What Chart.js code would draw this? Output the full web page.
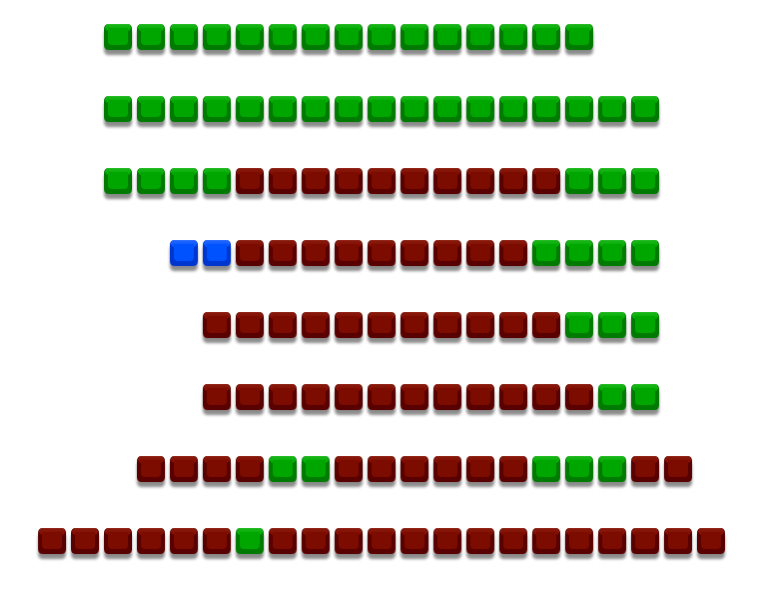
<!DOCTYPE html>
<html>
<head>
<meta charset="UTF-8">
<title>Seats</title>
<script src="https://cdn.jsdelivr.net/npm/chart.js@4.4.0/dist/chart.umd.min.js"></script>
<style>
  body { margin: 0; background: #fff; }
  #wrap { width: 765px; height: 590px; }
</style>
</head>
<body>
<div id="wrap"><canvas id="seatChart"></canvas></div>
<script>
// row number -> first column, and seat status per column (G free, R taken, B selected)
var rowStart = [2, 2, 2, 4, 5, 5, 3, 0];
var seatRows = [
    'GGGGGGGGGGGGGGG',
    'GGGGGGGGGGGGGGGGG',
    'GGGGRRRRRRRRRRGGG',
    'BBRRRRRRRRRGGGG',
    'RRRRRRRRRRRGGG',
    'RRRRRRRRRRRRGG',
    'RRRRGGRRRRRRGGGRR',
    'RRRRRRGRRRRRRRRRRRRRR'
];
var statusNames = { G: 'Free', R: 'Taken', B: 'Selected' };
var statusColors = {
    G: ['#00a600', '#007a00', '#19b819'],
    R: ['#7c0c00', '#590000', '#8a1a0c'],
    B: ['#0052ff', '#0036d0', '#2266ff']
};

function roundRect(ctx, x, y, w, h, r) {
    ctx.beginPath();
    ctx.moveTo(x + r, y);
    ctx.lineTo(x + w - r, y);
    ctx.quadraticCurveTo(x + w, y, x + w, y + r);
    ctx.lineTo(x + w, y + h - r);
    ctx.quadraticCurveTo(x + w, y + h, x + w - r, y + h);
    ctx.lineTo(x + r, y + h);
    ctx.quadraticCurveTo(x, y + h, x, y + h - r);
    ctx.lineTo(x, y + r);
    ctx.quadraticCurveTo(x, y, x + r, y);
    ctx.closePath();
}

function seatIcon(c) {
    var cv = document.createElement('canvas');
    cv.width = 36; cv.height = 44;
    var ctx = cv.getContext('2d');
    var x = 4, y = 9, w = 28, h = 26;
    ctx.save();
    ctx.shadowColor = 'rgba(0,0,0,0.45)';
    ctx.shadowOffsetY = 5;
    ctx.shadowBlur = 3;
    ctx.fillStyle = c[1];
    roundRect(ctx, x, y, w, h, 5);
    ctx.fill();
    ctx.restore();
    // seat back / cushion
    ctx.fillStyle = c[0];
    roundRect(ctx, x + 4, y, w - 8, h - 5, 4);
    ctx.fill();
    // top highlight
    var g = ctx.createLinearGradient(0, y, 0, y + 8);
    g.addColorStop(0, c[2]);
    g.addColorStop(1, c[0]);
    ctx.fillStyle = g;
    roundRect(ctx, x + 1, y, w - 2, 7, 4);
    ctx.fill();
    ctx.fillStyle = c[0];
    ctx.fillRect(x + 4, y + 4, w - 8, 6);
    return cv;
}

var datasets = [];
['G', 'R', 'B'].forEach(function (s) {
    var pts = [];
    seatRows.forEach(function (row, r) {
        for (var i = 0; i < row.length; i++) {
            if (row[i] === s) pts.push({ x: rowStart[r] + i, y: r });
        }
    });
    datasets.push({
        label: statusNames[s],
        data: pts,
        pointStyle: seatIcon(statusColors[s]),
        pointRadius: 14,
        pointHoverRadius: 14
    });
});

new Chart(document.getElementById('seatChart'), {
    type: 'scatter',
    data: { datasets: datasets },
    options: {
        responsive: true,
        maintainAspectRatio: false,
        animation: false,
        layout: { padding: 0, autoPadding: false },
        plugins: { legend: { display: false }, tooltip: { enabled: false } },
        scales: {
            x: { type: 'linear', min: -1.58, max: 21.64, display: false },
            y: { type: 'linear', reverse: true, min: -0.514, max: 7.68, display: false }
        }
    }
});
</script>
</body>
</html>
